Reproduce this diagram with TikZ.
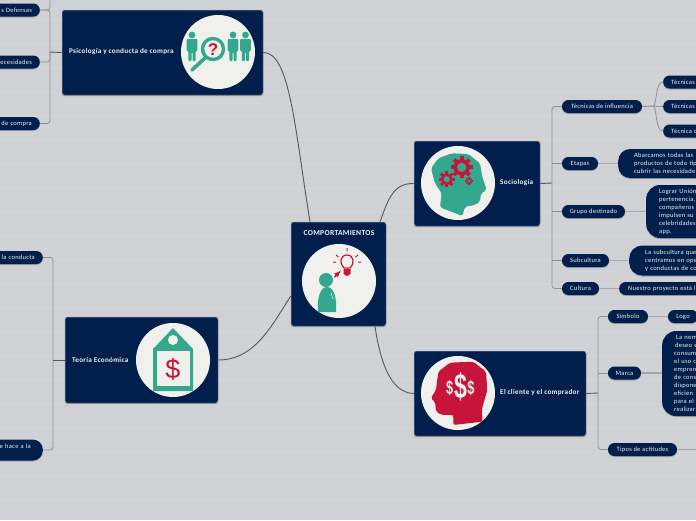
\documentclass[tikz,border=0pt]{standalone}
\usepackage{fontspec}
\setmainfont{Carlito}
\newfontfamily\pf[LetterSpace=4]{Carlito}
\newfontfamily\iconf{Liberation Sans}
\usetikzlibrary{shadows,calc}
\definecolor{navy}{HTML}{001F4D}
\definecolor{teal2}{HTML}{34A88F}
\definecolor{red2}{HTML}{C8143A}
\definecolor{offw}{HTML}{F0F1ED}
\definecolor{bgc}{HTML}{D0D1D4}
\definecolor{bgl}{HTML}{D3D4D7}
\definecolor{brk}{HTML}{8E9094}
\definecolor{lnk}{HTML}{55575B}
\definecolor{cnx}{HTML}{A4A6A9}
\tikzset{
 mainbox/.style={draw=brk,line width=.5pt,fill=navy,rounded corners=2.5pt,inner sep=0pt,
   drop shadow={shadow xshift=0pt,shadow yshift=-1.2pt,opacity=.55,fill=black!60}},
 boxtext/.style={text=offw,font=\pf\fontsize{7.2}{9}\selectfont\bfseries,inner sep=0pt},
 disc/.style={circle,fill=offw,inner sep=0pt,minimum size=74pt},
 pill/.style={fill=navy,rounded corners=6.4pt,minimum height=13pt,inner xsep=0pt,inner ysep=0pt,
   text=offw,font=\pf\fontsize{6.5}{8}\selectfont,
   drop shadow={shadow xshift=0pt,shadow yshift=-1pt,opacity=.35,fill=black!70}},
 leftpill/.style={pill,anchor=east,text width=70pt,align=right,inner xsep=#1},
 bigpill/.style={pill,rounded corners=13pt},
 bracket/.style={draw=brk,line width=.8pt,rounded corners=3pt},
 stub/.style={draw=lnk,line width=.9pt},
 link/.style={draw=lnk,line width=.9pt},
 conn/.style={draw=cnx,line width=1.2pt},
 person/.pic={
  \fill[teal2] (0,0) circle[radius=3.4];
  \fill[teal2,rounded corners=1pt] (-5.3,4) -- (5.3,4) -- (5.3,16) -- (3.6,16) -- (3.6,26) -- (.5,26) -- (.5,17) -- (-.5,17) -- (-.5,26) -- (-3.6,26) -- (-3.6,16) -- (-5.3,16) -- cycle;
 }
}
\newcommand\cogwheel[4]{% x,y,r,hub fill
 \foreach \a in {0,45,...,315}{\draw[red2,line width=#3*.34pt] ($(#1,#2)+(\a:#3*.65)$) -- ($(#1,#2)+(\a:#3)$);}
 \draw[red2,fill=#4,line width=#3*.32pt] (#1,#2) circle[radius=#3*.58];
}
\begin{document}
\begin{tikzpicture}[x=1pt,y=-1pt]
\useasboundingbox (0,0) rectangle (696,520);
\clip (0,0) rectangle (696,520);
\fill[bgc] (0,0) rectangle (696,520);
\foreach \yy in {8,20,...,512}{\draw[bgl,line width=2pt] (0,\yy) -- (696,\yy);}

% coordinates of brackets
\coordinate (tp) at (50,52);
\coordinate (te) at (53,360);
\coordinate (ts) at (552,183);
\coordinate (tc) at (598,393);
\coordinate (tt) at (653,106);

% main boxes
\node[mainbox,minimum width=95pt,minimum height=104pt] (central) at (338.5,274) {};
\node[mainbox,minimum width=201pt,minimum height=85pt] (psico) at (162.5,52.5) {};
\node[mainbox,minimum width=153pt,minimum height=86pt] (teoria) at (141.5,360) {};
\node[mainbox,minimum width=126pt,minimum height=85pt] (socio) at (477,183.5) {};
\node[mainbox,minimum width=172pt,minimum height=85pt] (cliente) at (500,393.5) {};

% main links
\draw[link] (psico.east) .. controls (290,52) and (295,130) .. (central.north west -| 310,222);
\draw[link] (teoria.east) .. controls (255,360) and (272,325) .. (central.west |- 0,296);
\draw[link] (socio.west) .. controls (393,183) and (388,200) .. (central.north east -| 380,222);
\draw[link] (cliente.west) .. controls (390,393) and (380,360) .. (central.south east -| 375,326);

% left pills
\node[leftpill=8pt] (p1) at (40,10) {s Defensas};
\node[leftpill=8pt] (p2) at (40,62) {ecesidades};
\node[leftpill=8pt] (p3) at (40,123.5) {de compra};
\node[leftpill=8pt] (e1) at (43,257.5) {la conducta};
\node[leftpill=12pt,rounded corners=10pt,minimum height=21pt] (e2) at (43,450) {e hace a la\\\mbox{}};

\coordinate (pt) at (50,-5);
\draw[bracket] (p1.east) -- (50,10) -- (pt);
\draw[bracket] (p1.east) -- (50,10) -- (50,123.5) -- (p3.east);
\draw[bracket] (p2.east) -- (50,62) -- (50,52);
\draw[stub] (psico.west) -- (tp);
\draw[bracket] (e1.east) -- (53,257.5) -- (53,450) -- (e2.east);
\draw[stub] (teoria.west) -- (te);

% Sociologia branch
\node[pill,minimum width=80pt] (s1) at (602,106.5) {Técnicas de influencia};
\node[pill,minimum width=36pt] (s2) at (580,163.5) {Etapas};
\node[pill,minimum width=63pt] (s3) at (593.5,211.5) {Grupo destinado};
\node[pill,minimum width=47pt] (s4) at (585.5,260.5) {Subcultura};
\node[pill,minimum width=37pt] (s5) at (580.5,288.5) {Cultura};
\draw[bracket] (s1.west) -- (552,106.5) -- (552,288.5) -- (s5.west);
\draw[bracket] (s2.west) -- (552,163.5);
\draw[bracket] (s3.west) -- (552,211.5);
\draw[bracket] (s4.west) -- (552,260.5);
\draw[stub] (socio.east) -- (ts);

\node[pill,anchor=west,minimum width=60pt,text width=60pt,align=left] (t1) at (663,82) {\hspace{8pt}Técnicas};
\node[pill,anchor=west,minimum width=60pt,text width=60pt,align=left] (t2) at (663,106.5) {\hspace{8pt}Técnicas};
\node[pill,anchor=west,minimum width=60pt,text width=60pt,align=left] (t3) at (663,131) {\hspace{8pt}Técnica c};
\draw[stub,draw=lnk!70] (s1.east) -- (tt);
\draw[bracket,rounded corners=0pt] (tt) .. controls (657,106) and (655,82) .. (t1.west);
\draw[bracket] (tt) -- (t2.west);
\draw[bracket,rounded corners=0pt] (tt) .. controls (657,106) and (655,131) .. (t3.west);

\node[bigpill,anchor=west,text width=100pt,align=left,minimum height=29pt,rounded corners=12pt] (d2) at (618,163.5) {\hspace{16pt}Abarcamos todas las\\\hspace{16pt}productos de todo tip\\\hspace{16pt}cubrir las necesidade};
\node[bigpill,anchor=west,text width=80pt,align=left,minimum height=53pt,rounded corners=14pt] (d3) at (646,211.5) {\hspace{13pt}Lograr Unión\\\hspace{13pt}pertenencia,\\\hspace{13pt}compañeros\\\hspace{13pt}impulsen su\\\hspace{13pt}celebridades\\\hspace{13pt}app.};
\node[bigpill,anchor=west,text width=100pt,align=left,minimum height=30pt] (d4) at (629,260.5) {\hspace{16pt}La subcultura que\\\hspace{16pt}centramos en ope\\\hspace{16pt}y conductas de co};
\node[pill,anchor=west,text width=100pt,align=left] (d5) at (619,288.5) {\hspace{9pt}Nuestro proyecto está l};
\draw[conn] (s2.east) -- (d2.west);
\draw[conn] (s3.east) -- (d3.west);
\draw[conn] (s4.east) -- (d4.west);
\draw[conn] (s5.east) -- (d5.west);

% Cliente branch
\node[pill,minimum width=40pt] (c1) at (628,316.5) {Símbolo};
\node[pill,minimum width=33pt] (c2) at (624.5,373) {Marca};
\node[pill,minimum width=69pt] (c3) at (642.5,449.5) {Tipos de actitudes};
\draw[bracket] (c1.west) -- (598,316.5) -- (598,449.5) -- (c3.west);
\draw[bracket] (c2.west) -- (598,373);
\draw[stub] (cliente.east) -- (tc);
\node[pill,minimum width=30pt] (l1) at (683,316.5) {Logo};
\node[bigpill,anchor=west,text width=80pt,align=left,minimum height=85pt,rounded corners=14pt] (l2) at (662,373.5) {\hspace{14pt}La nom\\\hspace{13pt}deseo e\\\hspace{12pt}consum\\\hspace{12pt}el uso c\\\hspace{12pt}empren\\\hspace{12pt}de cons\\\hspace{12pt}dispone\\\hspace{12pt}eficien\\\hspace{12pt}para el\\\hspace{12pt}realizar};
\coordinate (l3) at (700,449.5);
\draw[conn] (c1.east) -- (l1.west);
\draw[conn] (c2.east) -- (c2.east -| l2.west);
\draw[conn] (c3.east) -- (l3);

% discs
\node[disc] (dc) at (339,281) {};
\node[disc] (dp) at (218,52) {};
\node[disc] (de) at (173,360) {};
\node[disc] (ds) at (458,183) {};
\node[disc] (dk) at (458,393) {};

% box texts
\node[boxtext,font=\pf\fontsize{7.6}{9}\selectfont\bfseries] (tc0) at (339,233.5) {COMPORTAMIENTOS};
\node[boxtext,anchor=west] (tp0) at (69,52) {Psicología y conducta de compra};
\node[boxtext,anchor=west] (te0) at (72,360) {Teoría Económica};
\node[boxtext,anchor=west] (ts0) at (500,183) {Sociología};
\node[boxtext,anchor=west] (tk0) at (500,393) {El cliente y el comprador};

% psico icon
\pic at (192,35) {person};
\pic at (233,35) {person};
\pic at (245.5,35) {person};
\draw[teal2,line width=3.6pt,line cap=round] (205,58) -- (192,70);
\draw[teal2,line width=3.4pt,fill=offw] (213,49) circle[radius=10.5];
\node[inner sep=0pt,text=red2,font=\iconf\bfseries\fontsize{17}{17}\selectfont] (q) at (213,50) {?};

% teoria icon
\fill[teal2] (153,349) -- (173,328) -- (193,349) -- (193,391) -- (153,391) -- cycle;
\fill[offw] (157,351) rectangle (190,386);
\fill[offw] (173,340) circle[radius=5];
\node[inner sep=0pt,text=red2,font=\iconf\fontsize{27}{27}\selectfont] (dol) at (173,369) {\$};

% central icon
\fill[teal2] (326,280) circle[radius=7];
\fill[teal2] (318,312) .. controls (317,298) and (320,287) .. (327,287) .. controls (334,287) and (337,298) .. (336,312) -- cycle;
\draw[offw,line width=.6pt] (331,293) -- (333,299);
\draw[red2,line width=1.2pt] (344,268) .. controls (339,264) and (340,255) .. (347,255) .. controls (354,255) and (355,264) .. (350,268) -- cycle;
\fill[red2] (343.5,269) -- (350.5,269) -- (350.5,274) -- (347,276) -- (343.5,274) -- cycle;
\draw[red2,line width=1pt] (347,248) -- (347,251) (336,255) -- (338.5,257) (358,255) -- (355.5,257) (333,262) -- (336,262) (361,262) -- (358,262);
\draw[red2,line width=1.4pt,-latex] (334.5,277) -- (341,270.5);

% sociologia icon
\begin{scope}[shift={(405,130)},x=.3333pt,y=-.3333pt]
\fill[teal2,rounded corners=2pt] (78,115) -- (100,85) -- (140,70) -- (190,72) -- (225,100) -- (232,140) -- (245,180) -- (228,190) -- (225,215) -- (210,225) -- (180,230) -- (172,258) -- (105,232) -- (110,190) -- (90,160) -- cycle;
\end{scope}
\cogwheel{461.7}{167.3}{11}{teal2}
\cogwheel{446.7}{179.3}{8}{teal2}
\cogwheel{469}{181}{3.6}{teal2}

% cliente icon
\begin{scope}[shift={(400,300)},x=.3333pt,y=-.3333pt]
\fill[red2,rounded corners=2pt] (92,295) -- (108,270) -- (115,215) -- (150,188) -- (220,185) -- (258,215) -- (262,270) -- (245,330) -- (248,365) -- (160,375) -- (160,345) -- (125,345) -- (108,335) -- (105,305) -- cycle;
\end{scope}
\node[inner sep=0pt,text=offw,font=\iconf\bfseries\fontsize{16}{16}\selectfont] (dl) at (449.8,388) {\scalebox{.8}[1.2]{\$}};
\node[inner sep=0pt,text=offw,font=\iconf\bfseries\fontsize{16}{16}\selectfont] (dr) at (471,388) {\scalebox{.8}[1.2]{\$}};
\node[inner sep=0pt,text=offw,font=\iconf\bfseries\fontsize{29}{29}\selectfont] (dm) at (460.5,387) {\scalebox{.8}[1.2]{\$}};
\end{tikzpicture}
\end{document}
